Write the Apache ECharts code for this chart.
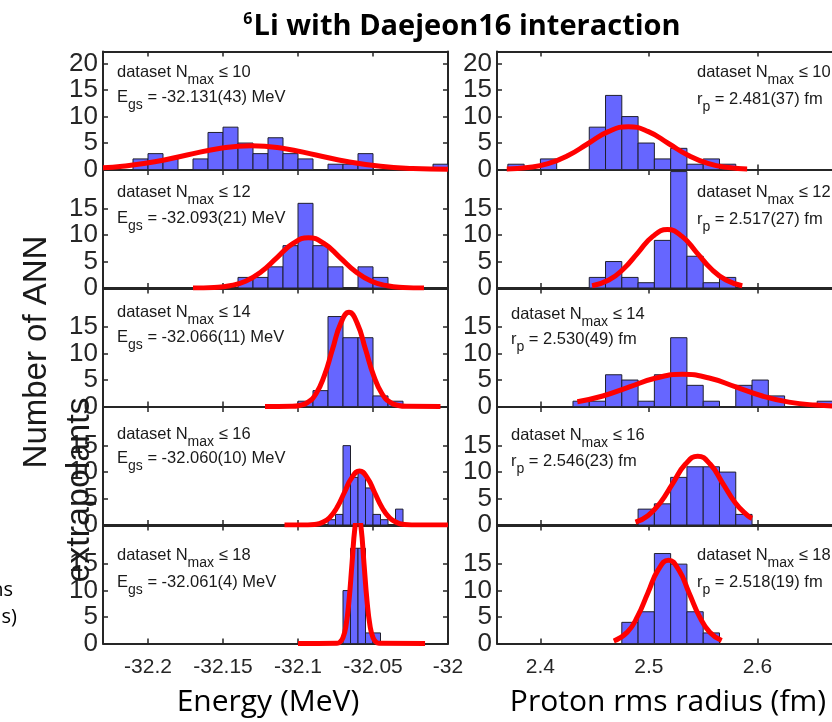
<!DOCTYPE html>
<html><head><meta charset="utf-8">
<script src="https://cdn.jsdelivr.net/npm/echarts@6/dist/echarts.min.js"></script>
<style>html,body{margin:0;padding:0;background:#fff}#c{width:832px;height:722px}</style>
</head><body><div id="c"></div>
<script>
// ---------------- DATA ----------------
const energyTicks = [-32.2, -32.15, -32.1, -32.05, -32];
const energyTickLabels = ['-32.2', '-32.15', '-32.1', '-32.05', '-32'];
const radiusTicks = [2.4, 2.5, 2.6, 2.7];
const radiusTickLabels = ['2.4', '2.5', '2.6', '2.7'];
const countTicksTop = [0, 5, 10, 15, 20];
const countTicksLower = [0, 5, 10, 15];

const nmaxValues = ['10', '12', '14', '16', '18'];
const energyResults = ['-32.131(43)', '-32.093(21)', '-32.066(11)', '-32.060(10)', '-32.061(4)'];
const radiusResults = ['2.481(37)', '2.517(27)', '2.530(49)', '2.546(23)', '2.518(19)'];

// histograms: first bin edge, bin width, counts per bin
const energyBinStart = [-32.21, -32.14, -32.10, -32.08, -32.07];
const energyBinWidth = [0.01, 0.01, 0.01, 0.005, 0.005];
const energyCounts10 = [2, 3, 2, 0, 2, 7, 8, 5, 3, 6, 3, 2, 0, 1, 1, 3, 0, 0, 0, 0, 1];
const energyCounts12 = [2, 2, 4, 8, 16, 8, 4, 0, 4, 2];
const energyCounts14 = [1, 3, 17, 13, 13, 2, 1];
const energyCounts16 = [1, 2, 15, 9, 10, 7, 2, 1, 0, 3];
const energyCounts18 = [10, 18, 18, 2, 2];

const radiusBinStart = [2.37, 2.445, 2.43, 2.49, 2.475];
const radiusBinWidth = [0.015, 0.015, 0.015, 0.015, 0.015];
const radiusCounts10 = [1, 0, 2, 0, 0, 8, 14, 10, 5, 2, 4, 1, 2, 1];
const radiusCounts12 = [2, 5, 2, 1, 9, 22, 6, 1, 2];
const radiusCounts14 = [1, 1, 6, 5, 1, 6, 13, 4, 1, 0, 4, 5, 2, 0, 0, 1];
const radiusCounts16 = [3, 4, 9, 11, 11, 10, 2];
const radiusCounts18 = [4, 6, 17, 15, 6, 2];

// fitted curves: [x, count]
const energyFit10 = [[-32.23,0.32],[-32.217,0.61],[-32.1955,1.46],[-32.174,2.73],[-32.1525,3.97],[-32.131,4.5],[-32.1095,3.97],[-32.088,2.73],[-32.0665,1.46],[-32.045,0.61],[-32.0235,0.2],[-32.0,0.05]];
const energyFit12 = [[-32.17,0.01],[-32.156,0.11],[-32.1455,0.42],[-32.135,1.29],[-32.1245,3.08],[-32.114,5.76],[-32.1035,8.38],[-32.093,9.5],[-32.0825,8.38],[-32.072,5.76],[-32.0615,3.08],[-32.051,1.29],[-32.0405,0.42],[-32.03,0.11],[-32.016,0.01]];
const energyFit14 = [[-32.122,0],[-32.1045,0.04],[-32.099,0.2],[-32.0935,0.78],[-32.088,2.41],[-32.0825,5.78],[-32.077,10.8],[-32.0715,15.71],[-32.066,17.8],[-32.0605,15.71],[-32.055,10.8],[-32.0495,5.78],[-32.044,2.41],[-32.0385,0.78],[-32.033,0.2],[-32.0275,0.04],[-32.005,0]];
const energyFit16 = [[-32.109,0],[-32.094,0.02],[-32.089,0.11],[-32.084,0.45],[-32.079,1.38],[-32.074,3.31],[-32.069,6.19],[-32.064,9.0],[-32.059,10.2],[-32.054,9.0],[-32.049,6.19],[-32.044,3.31],[-32.039,1.38],[-32.034,0.45],[-32.029,0.11],[-32.024,0.02],[-32.0,0]];
const energyFit18 = [[-32.1,0],[-32.074,0.05],[-32.072,0.28],[-32.07,1.09],[-32.068,3.37],[-32.066,8.09],[-32.064,15.1],[-32.062,22.0],[-32.06,24.9],[-32.058,22.0],[-32.056,15.1],[-32.054,8.09],[-32.052,3.37],[-32.05,1.09],[-32.048,0.28],[-32.046,0.05],[-32.0153,0]];

const radiusFit10 = [[2.369,0.08],[2.3885,0.36],[2.407,1.1],[2.4255,2.63],[2.444,4.91],[2.4625,7.15],[2.481,8.1],[2.4995,7.15],[2.518,4.91],[2.5365,2.63],[2.555,1.1],[2.5735,0.36],[2.5905,0.1]];
const radiusFit12 = [[2.4476,0.41],[2.463,1.5],[2.4765,3.59],[2.49,6.7],[2.5035,9.75],[2.517,11.05],[2.5305,9.75],[2.544,6.7],[2.5575,3.59],[2.571,1.5],[2.586,0.42]];
const radiusFit14 = [[2.434,0.9],[2.4575,1.98],[2.482,3.7],[2.5065,5.38],[2.531,6.1],[2.5555,5.38],[2.58,3.7],[2.6045,1.98],[2.629,0.83],[2.6535,0.27],[2.678,0.07],[2.7,0.02]];
const radiusFit16 = [[2.4876,0.52],[2.499,1.76],[2.5105,4.22],[2.522,7.88],[2.5335,11.47],[2.545,13.0],[2.5565,11.47],[2.568,7.88],[2.5795,4.22],[2.591,1.76],[2.595,1.25]];
const radiusFit18 = [[2.4676,0.47],[2.48,2.13],[2.4895,5.11],[2.499,9.55],[2.5085,13.9],[2.518,15.75],[2.5275,13.9],[2.537,9.55],[2.5465,5.11],[2.556,2.13],[2.567,0.56]];

const energyCounts = [energyCounts10, energyCounts12, energyCounts14, energyCounts16, energyCounts18];
const radiusCounts = [radiusCounts10, radiusCounts12, radiusCounts14, radiusCounts16, radiusCounts18];
const energyFits = [energyFit10, energyFit12, energyFit14, energyFit16, energyFit18];
const radiusFits = [radiusFit10, radiusFit12, radiusFit14, radiusFit16, radiusFit18];

// ---------------- LAYOUT ----------------
const panelTops = [51.5, 170, 288.5, 407, 525.5];
const panelH = 118;
const leftX = 103, leftW = 345, rightX = 497, rightW = 369;
const energyMin = -32.23, energyMax = -32.0;
const radiusMin = 2.36, radiusMax = 2.7;
const countMax = 22.3;
const annLeftX = [117, 117, 117, 117, 117];
const annLeftBase = [[78, 103], [198, 224], [318, 343], [440, 464], [561, 588]];
const annRightX = [697, 697, 511, 511, 697];
const annRightBase = [[78, 105], [198, 225], [320, 345], [441, 467], [561, 588]];

const AX = '#262626';
const TXT = '#1a1a1a';
const SANS = '"Liberation Sans", Arial, Helvetica, sans-serif';

function labelFormatter(ticks, labels) {
  return function (v) {
    let best = 0;
    ticks.forEach((t, i) => { if (Math.abs(t - v) < Math.abs(ticks[best] - v)) best = i; });
    return labels[best];
  };
}

const grids = [], xAxes = [], yAxes = [], series = [];

function addPanel(gx, gw, top, xmin, xmax, xticks, xlabels, showX, yLabelVals, counts, start, width, fit) {
  const gi = grids.length;
  grids.push({ left: gx, top: top, width: gw, height: panelH, containLabel: false, outerBoundsMode: 'none' });
  const xi = xAxes.length;
  const xCommon = {
    type: 'value', gridIndex: gi, min: xmin, max: xmax,
    axisLine: { show: true, onZero: false, lineStyle: { color: AX, width: 2 } },
    axisTick: { show: true, inside: true, length: 5, customValues: xticks, lineStyle: { color: AX, width: 1.5 } },
    splitLine: { show: false }
  };
  xAxes.push(Object.assign({}, xCommon, {
    position: 'bottom',
    axisLabel: { show: showX, customValues: xticks, margin: 13, color: AX, fontSize: 21, fontFamily: SANS,
      formatter: labelFormatter(xticks, xlabels) }
  }));
  xAxes.push(Object.assign({}, xCommon, { position: 'top', axisLabel: { show: false } }));
  const yi = yAxes.length;
  const yCommon = {
    type: 'value', gridIndex: gi, min: 0, max: countMax,
    axisLine: { show: true, onZero: false, lineStyle: { color: AX, width: 2 } },
    axisTick: { show: true, inside: true, length: 5, customValues: yLabelVals, lineStyle: { color: AX, width: 1.5 } },
    splitLine: { show: false }
  };
  yAxes.push(Object.assign({}, yCommon, {
    position: 'left',
    axisLabel: { show: true, customValues: yLabelVals, margin: 5, color: AX, fontSize: 26, fontFamily: SANS }
  }));
  yAxes.push(Object.assign({}, yCommon, { position: 'right', axisLabel: { show: false } }));

  const bins = [];
  counts.forEach((c, k) => { if (c > 0) bins.push([start + k * width, start + (k + 1) * width, c]); });
  series.push({
    type: 'custom', xAxisIndex: xi, yAxisIndex: yi, clip: true, z: 2,
    data: bins, encode: { x: [0, 1], y: 2 },
    renderItem: function (params, api) {
      const p0 = api.coord([api.value(0), 0]);
      const p1 = api.coord([api.value(1), api.value(2)]);
      return { type: 'rect', shape: { x: p0[0], y: p1[1], width: p1[0] - p0[0], height: p0[1] - p1[1] },
        style: { fill: '#6666ff', stroke: '#1f1f2e', lineWidth: 1 } };
    }
  });
  series.push({
    type: 'line', xAxisIndex: xi, yAxisIndex: yi, data: fit, smooth: true, showSymbol: false, symbol: 'none',
    clip: true, z: 3, lineStyle: { color: '#ff0000', width: 5 }, silent: true, animation: false
  });
}

for (let i = 0; i < 5; i++) {
  const yv = i === 0 ? countTicksTop : countTicksLower;
  addPanel(leftX, leftW, panelTops[i], energyMin, energyMax, energyTicks, energyTickLabels, i === 4, yv,
    energyCounts[i], energyBinStart[i], energyBinWidth[i], energyFits[i]);
}
for (let i = 0; i < 5; i++) {
  const yv = i === 0 ? countTicksTop : countTicksLower;
  addPanel(rightX, rightW, panelTops[i], radiusMin, radiusMax, radiusTicks, radiusTickLabels, i === 4, yv,
    radiusCounts[i], radiusBinStart[i], radiusBinWidth[i], radiusFits[i]);
}

// ---------------- TEXT ----------------
const mctx = document.createElement('canvas').getContext('2d');
function tw(text, font) { mctx.font = font; return mctx.measureText(text).width; }
const els = [];
const MAIN = 16.5, SUB = 14, SUBDY = 6.5;
function runText(x, base, parts) {
  let cx = x;
  parts.forEach(p => {
    const size = p.sub ? SUB : MAIN;
    const font = size + 'px ' + SANS;
    els.push({ type: 'text', x: cx, y: base + (p.sub ? SUBDY : 0) - 0.33 * size, z: 100, silent: true,
      style: { text: p.t, font: font, fill: TXT, align: 'left', verticalAlign: 'middle' } });
    cx += tw(p.t, font);
  });
}
for (let i = 0; i < 5; i++) {
  runText(annLeftX[i], annLeftBase[i][0], [{ t: 'dataset N' }, { t: 'max', sub: true }, { t: ' \u2264 ' + nmaxValues[i] }]);
  runText(annLeftX[i], annLeftBase[i][1], [{ t: 'E' }, { t: 'gs', sub: true }, { t: ' = ' + energyResults[i] + ' MeV' }]);
  runText(annRightX[i], annRightBase[i][0], [{ t: 'dataset N' }, { t: 'max', sub: true }, { t: ' \u2264 ' + nmaxValues[i] }]);
  runText(annRightX[i], annRightBase[i][1], [{ t: 'r' }, { t: 'p', sub: true }, { t: ' = ' + radiusResults[i] + ' fm' }]);
}

// title
const titleFont = 'bold 29px "Open Sans", "Noto Sans", sans-serif';
const supFont = 'bold 16px "Open Sans", "Noto Sans", sans-serif';
const titleMain = 'Li with Daejeon16 interaction';
const wSup = tw('6', supFont) + 1, wMain = tw(titleMain, titleFont);
const tx0 = 462 - (wSup + wMain) / 2;
els.push({ type: 'text', x: tx0, y: 19, z: 100, style: { text: '6', font: supFont, fill: '#000', align: 'left', verticalAlign: 'middle' } });
els.push({ type: 'text', x: tx0 + wSup, y: 27, z: 100, style: { text: titleMain, font: titleFont, fill: '#000', align: 'left', verticalAlign: 'middle' } });

// axis titles
const axFont = '30px "Open Sans", "Noto Sans", sans-serif';
els.push({ type: 'text', x: 268, y: 702, z: 100, style: { text: 'Energy (MeV)', font: axFont, fill: '#000', align: 'center', verticalAlign: 'middle' } });
els.push({ type: 'text', x: 668, y: 702, z: 100, style: { text: 'Proton rms radius (fm)', font: axFont, fill: '#000', align: 'center', verticalAlign: 'middle' } });
els.push({ type: 'text', x: 37, y: 352, rotation: Math.PI / 2, z: 100, style: { text: 'Number of ANN', font: '33px ' + SANS, fill: TXT, align: 'center', verticalAlign: 'middle' } });
els.push({ type: 'text', x: 80, y: 490, rotation: Math.PI / 2, z: 100, style: { text: 'extrapolants', font: '34px ' + SANS, fill: TXT, align: 'center', verticalAlign: 'middle' } });
// fragments at the left edge
els.push({ type: 'text', x: 13, y: 590, z: 100, style: { text: 'ns', font: '20px "Open Sans", sans-serif', fill: '#000', align: 'right', verticalAlign: 'middle' } });
els.push({ type: 'text', x: 17, y: 617, z: 100, style: { text: 's)', font: '20px "Open Sans", sans-serif', fill: '#000', align: 'right', verticalAlign: 'middle' } });

const chart = echarts.init(document.getElementById('c'), null, { renderer: 'canvas' });
chart.setOption({
  animation: false,
  backgroundColor: '#ffffff',
  grid: grids,
  xAxis: xAxes,
  yAxis: yAxes,
  series: series,
  graphic: { elements: els }
});
</script>
</body></html>
